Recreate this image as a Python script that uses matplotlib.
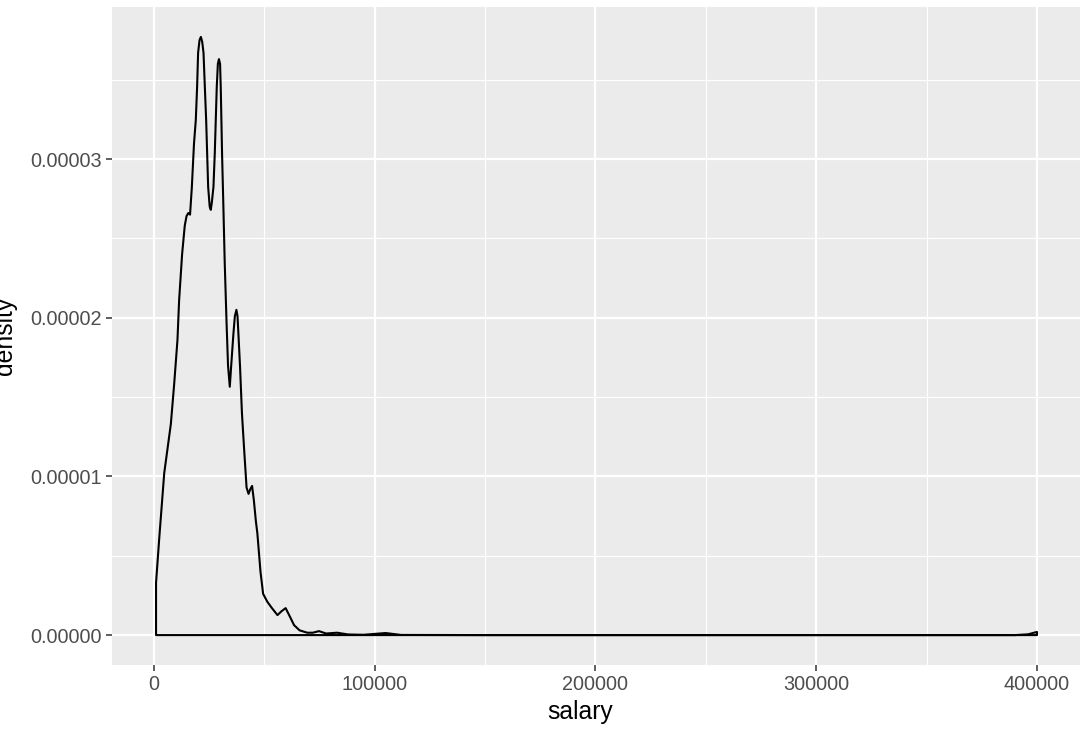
import matplotlib
matplotlib.use('Agg')
import matplotlib.pyplot as plt
from matplotlib.ticker import MultipleLocator, FixedLocator

# density curve (salary, density in 1e-5)
salary = [1000, 2500, 4700, 7700, 9200, 10700, 11450, 12800, 14000, 14800,
          15600, 16400, 17200, 18200, 19000, 19600, 20050, 20700, 21300, 21900,
          22500, 23100, 23700, 24600, 25300, 25800, 26300, 27000, 27600, 28500,
          29000, 29500, 30000, 30300, 30900, 31500, 32100, 32900, 33600, 34400,
          35000, 36050, 36700, 37400, 37900, 38300, 39050, 39900, 40900, 42000,
          42900, 43700, 44500, 45300, 46200, 46900, 48300, 49500, 51400, 53500,
          56000, 57800, 59700, 61500, 63500, 66000, 69500, 72000, 74800, 78000,
          83000, 88000, 95000, 105000, 112000, 150000, 300000, 390000, 396000, 400000]
density = [0.33, 0.62, 1.02, 1.33, 1.58, 1.86, 2.11, 2.40, 2.58, 2.64,
           2.66, 2.65, 2.82, 3.10, 3.245, 3.455, 3.67, 3.75, 3.77, 3.74,
           3.67, 3.455, 3.245, 2.825, 2.70, 2.68, 2.73, 2.825, 3.035, 3.455,
           3.60, 3.63, 3.60, 3.455, 3.035, 2.70, 2.35, 1.985, 1.70, 1.565,
           1.69, 1.90, 2.01, 2.05, 2.01, 1.90, 1.69, 1.40, 1.17, 0.93,
           0.89, 0.92, 0.94, 0.85, 0.72, 0.64, 0.40, 0.26, 0.21, 0.17,
           0.126, 0.15, 0.17, 0.12, 0.063, 0.03, 0.015, 0.015, 0.025, 0.01,
           0.015, 0.004, 0.002, 0.013, 0.001, 0.0, 0.0, 0.0, 0.005, 0.02]
density = [d * 1e-5 for d in density]

x_ticks = [0, 100000, 200000, 300000, 400000]
y_ticks = [0.0, 0.00001, 0.00002, 0.00003]
y_tick_labels = ["0.00000", "0.00001", "0.00002", "0.00003"]

plt.rcParams['font.family'] = ['Liberation Sans', 'DejaVu Sans']

fig = plt.figure(figsize=(10.8, 7.3), dpi=100)
ax = fig.add_axes([112 / 1080, 65 / 730, 969 / 1080, 658 / 730])
ax.set_facecolor('#EBEBEB')
for s in ax.spines.values():
    s.set_visible(False)

# 外枠つきの密度ポリゴン（ベースラインまで閉じる）
ax.fill(salary + [salary[-1], salary[0]], density + [0, 0],
        facecolor='none', edgecolor='black', linewidth=1.5,
        joinstyle='round', zorder=3)

xmin, xmax = salary[0], salary[-1]
pad = 0.05 * (xmax - xmin)
ax.set_xlim(xmin - pad, xmax + pad)
ymax = max(density)
ax.set_ylim(-0.05 * ymax, ymax * 1.05)

ax.xaxis.set_major_locator(FixedLocator(x_ticks))
ax.xaxis.set_minor_locator(MultipleLocator(50000))
ax.set_xticklabels([str(v) for v in x_ticks])
ax.yaxis.set_major_locator(FixedLocator(y_ticks))
ax.yaxis.set_minor_locator(MultipleLocator(0.000005))
ax.set_yticklabels(y_tick_labels)

ax.grid(which='major', color='white', linewidth=1.6)
ax.grid(which='minor', color='white', linewidth=0.8)
ax.set_axisbelow(True)

ax.tick_params(which='major', length=4.5, width=1.1, color='#333333',
               labelcolor='#4D4D4D', labelsize=14.3, pad=3)
ax.tick_params(which='minor', length=0)

ax.set_xlabel('salary', fontsize=17.8, color='black')
ax.set_ylabel('density', fontsize=17.8, color='black')
ax.xaxis.set_label_coords(0.4835, -0.0714)
ax.xaxis.label.set_va('center')
ax.xaxis.label.set_ha('center')
ax.yaxis.set_label_coords(-0.1105, 0.5)
ax.yaxis.label.set_va('center')

fig.savefig('out.png', dpi=100)
plt.close(fig)
